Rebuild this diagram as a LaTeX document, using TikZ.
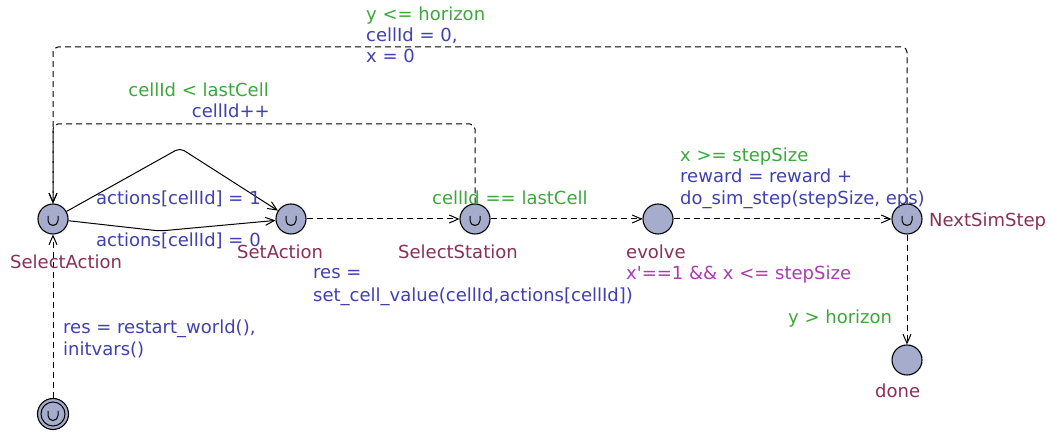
\documentclass[tikz,border=0pt]{standalone}
\usepackage{fontspec}
\setmainfont{DejaVu Sans}
\usetikzlibrary{arrows.meta}
\definecolor{guardc}{RGB}{60,168,60}
\definecolor{updc}{RGB}{64,64,176}
\definecolor{namec}{RGB}{136,48,88}
\definecolor{invc}{RGB}{168,60,176}
\definecolor{locfill}{RGB}{165,172,204}
\tikzset{
  loc/.style={circle,draw=black,line width=1.1pt,fill=locfill,minimum size=30pt,inner sep=0pt},
  urgent/.style={path picture={\draw[line width=1pt] ([shift={(-5pt,3pt)}]path picture bounding box.center) -- ++(0,-4.5pt) arc[start angle=180,end angle=360,radius=5pt] -- ++(0,4.5pt);}},
  initurgent/.style={minimum size=31pt,path picture={
     \draw[line width=1pt] (path picture bounding box.center) circle[radius=12pt];
     \draw[line width=1pt] ([shift={(-5pt,3pt)}]path picture bounding box.center) -- ++(0,-4.5pt) arc[start angle=180,end angle=360,radius=5pt] -- ++(0,4.5pt);}},
  lbl/.style={font=\fontsize{18}{21}\selectfont,inner sep=0pt,anchor=base west},
  guard/.style={lbl,text=guardc},
  upd/.style={lbl,text=updc},
  lname/.style={lbl,text=namec},
  inv/.style={lbl,text=invc},
  edge/.style={line width=1pt,-{Straight Barb[length=9pt,width=8pt]},rounded corners=5pt},
  dedge/.style={edge,dash pattern=on 6pt off 4pt}
}
\begin{document}
\begin{tikzpicture}[x=1pt,y=-1pt]
\useasboundingbox[fill=white] (0,0) rectangle (1053,435);
% locations
\node[loc,urgent] (sa) at (53,219) {};
\node[loc,urgent] (seta) at (291,219) {};
\node[loc,urgent] (ss) at (475,219) {};
\node[loc] (ev) at (658,219) {};
\node[loc,urgent] (nss) at (907,219) {};
\node[loc] (done) at (907,360) {};
\node[loc,initurgent] (init) at (53,414) {};
% bend points
\coordinate (up1) at (180,148);
\coordinate (lo1) at (160,231);
\coordinate (c1) at (475,124);
\coordinate (c2) at (53,124);
\coordinate (c3) at (907,47);
\coordinate (c4) at (53,47);
% edges
\draw[dedge] (init) -- (sa);
\draw[edge] (sa) -- (up1) -- (seta);
\draw[edge] (sa) -- (lo1) -- (seta);
\draw[dedge] (seta) -- (ss);
\draw[dedge] (ss) -- (c1) -- (c2) -- (sa);
\draw[dedge] (ss) -- (ev);
\draw[dedge] (ev) -- (nss);
\draw[dedge] (nss) -- (c3) -- (c4) -- (sa);
\draw[dedge] (nss) -- (done);
% labels
\node[guard] (g1) at (366,21) {y <= horizon};
\node[upd] (u1a) at (366,42) {cellId = 0,};
\node[upd] (u1b) at (366,63) {x = 0};
\node[guard,anchor=base east] (g2) at (269,97) {cellId < lastCell};
\node[upd,anchor=base east] (u2) at (270,118) {cellId++};
\node[guard] (g3) at (680,162) {x >= stepSize};
\node[upd] (u3a) at (680,183) {reward = reward +};
\node[upd] (u3b) at (680,205) {do\_sim\_step(stepSize, eps)};
\node[upd] (u4) at (96,205) {actions[cellId] = 1};
\node[guard] (g5) at (432,205) {cellId == lastCell};
\node[upd] (u6) at (96,247) {actions[cellId] = 0};
\node[upd] (u7a) at (313,279) {res =};
\node[upd] (u7b) at (313,302) {set\_cell\_value(cellId,actions[cellId])};
\node[guard] (g8) at (788,324) {y > horizon};
\node[upd] (u9a) at (63,334) {res = restart\_world(),};
\node[upd] (u9b) at (63,356) {initvars()};
% names and invariants
\node[lname] (n1) at (929,227) {NextSimStep};
\node[lname] (n2) at (237,259) {SetAction};
\node[lname] (n3) at (398,259) {SelectStation};
\node[lname] (n4) at (626,259) {evolve};
\node[lname] (n5) at (10,269) {SelectAction};
\node[inv] (i4) at (626,280) {x\textquotesingle==1 \&\& x <= stepSize};
\node[lname] (n6) at (875,398) {done};
\end{tikzpicture}
\end{document}
